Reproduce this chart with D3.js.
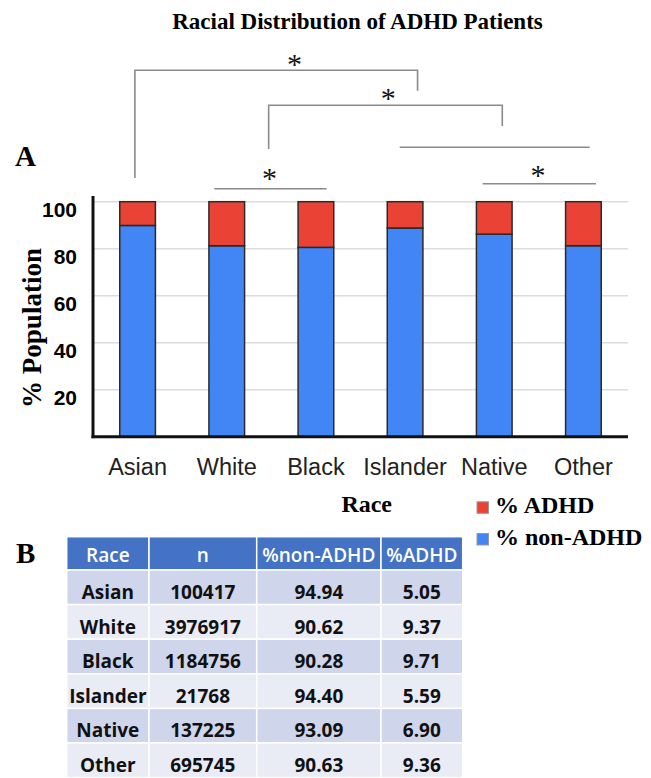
<!DOCTYPE html>
<html>
<head>
<meta charset="utf-8">
<title>Racial Distribution of ADHD Patients</title>
<style>
  body { margin: 0; background: #fff; }
  svg { display: block; }
  .serif { font-family: 'Liberation Serif', 'Times New Roman', serif; font-weight: bold; }
  .sans { font-family: 'Liberation Sans', Arial, sans-serif; }
  .tbl { font-family: 'Open Sans', 'Noto Sans', sans-serif; }
</style>
</head>
<body>
<div id="chart"></div>
<script src="https://d3js.org/d3.v7.min.js"></script>
<script>
// data
var races      = ["Asian", "White", "Black", "Islander", "Native", "Other"];
var counts     = [100417, 3976917, 1184756, 21768, 137225, 695745];
var nonAdhd    = [94.94, 90.62, 90.28, 94.40, 93.09, 90.63];
var adhd       = [5.05, 9.37, 9.71, 5.59, 6.90, 9.36];
var tableHead  = ["Race", "n", "%non-ADHD", "%ADHD"];
// gridlines as drawn in the figure and the labels printed beside them
var yTickValues = [60, 70, 80, 90, 100];
var yTickLabels = ["20", "40", "60", "80", "100"];

var blue = "#4285f4", red = "#ea4335";

var svg = d3.select("#chart").append("svg")
    .attr("width", 651)
    .attr("height", 778);

// title
svg.append("text")
    .attr("class", "serif")
    .attr("x", 357.5).attr("y", 28.5)
    .attr("text-anchor", "middle")
    .style("font-size", "23px")
    .text("Racial Distribution of ADHD Patients");

// panel letters
svg.append("text").attr("class", "serif").attr("x", 15).attr("y", 166)
    .style("font-size", "29px").text("A");
svg.append("text").attr("class", "serif").attr("x", 16).attr("y", 563)
    .style("font-size", "29px").text("B");

// scales
var x = d3.scaleBand()
    .domain(races)
    .range([93, 628])
    .paddingInner(0.6)
    .paddingOuter(0.3);

var y = d3.scaleLinear()
    .domain([50, 100])
    .range([436.7, 201.7]);

// category index -> x, for the significance brackets
function pos(i) {
    return x(races[0]) + x.bandwidth() / 2 + i * x.step();
}

// gridlines
svg.append("g")
    .selectAll("line")
    .data(yTickValues)
    .enter().append("line")
    .attr("x1", 93).attr("x2", 628)
    .attr("y1", function(d){ return y(d); })
    .attr("y2", function(d){ return y(d); })
    .attr("stroke", "#dcdcdc")
    .attr("stroke-width", 1.5);

// y tick labels (drawn a little below the gridline, like the original)
svg.append("g")
    .selectAll("text")
    .data(yTickValues)
    .enter().append("text")
    .attr("class", "sans")
    .attr("x", 77)
    .attr("y", function(d){ return y(d) + 15; })
    .attr("text-anchor", "end")
    .style("font-size", "21px")
    .style("font-weight", "bold")
    .text(function(d, i){ return yTickLabels[i]; });

// bars
var bars = svg.append("g")
    .selectAll("g")
    .data(races)
    .enter().append("g");

bars.append("rect")
    .attr("x", function(d){ return x(d); })
    .attr("width", x.bandwidth())
    .attr("y", function(d, i){ return y(nonAdhd[i]); })
    .attr("height", function(d, i){ return y(50) - y(nonAdhd[i]); })
    .attr("fill", blue)
    .attr("stroke", "#2a2a2a")
    .attr("stroke-width", 1.5);

bars.append("rect")
    .attr("x", function(d){ return x(d); })
    .attr("width", x.bandwidth())
    .attr("y", y(100))
    .attr("height", function(d, i){ return y(100 - adhd[i]) - y(100); })
    .attr("fill", red)
    .attr("stroke", "#2a2a2a")
    .attr("stroke-width", 1.5);

// axes lines
svg.append("line")
    .attr("x1", 93).attr("x2", 93)
    .attr("y1", 196).attr("y2", y(50) + 1.5)
    .attr("stroke", "#111").attr("stroke-width", 3);
svg.append("line")
    .attr("x1", 91.5).attr("x2", 628)
    .attr("y1", y(50)).attr("y2", y(50))
    .attr("stroke", "#111").attr("stroke-width", 3);

// x labels
svg.append("g")
    .selectAll("text")
    .data(races)
    .enter().append("text")
    .attr("class", "sans")
    .attr("x", function(d){ return x(d) + x.bandwidth() / 2; })
    .attr("y", 475)
    .attr("text-anchor", "middle")
    .style("font-size", "23.5px")
    .style("fill", "#222")
    .text(function(d){ return d; });

// axis titles
svg.append("text")
    .attr("class", "serif")
    .attr("transform", "translate(41,328) rotate(-90)")
    .attr("text-anchor", "middle")
    .style("font-size", "27px")
    .text("% Population");

svg.append("text")
    .attr("class", "serif")
    .attr("x", 366.7).attr("y", 512)
    .attr("text-anchor", "middle")
    .style("font-size", "24px")
    .text("Race");

// legend
var legend = [{label: "% ADHD", color: red, y: 513.3}, {label: "% non-ADHD", color: blue, y: 545}];
var lg = svg.append("g").selectAll("g").data(legend).enter().append("g");
lg.append("rect")
    .attr("x", 477).attr("y", function(d){ return d.y - 11.5; })
    .attr("width", 11.5).attr("height", 11.5)
    .attr("fill", function(d){ return d.color; })
    .attr("stroke", "#999").attr("stroke-width", 1);
lg.append("text")
    .attr("class", "serif")
    .attr("x", 495).attr("y", function(d){ return d.y; })
    .style("font-size", "24px")
    .text(function(d){ return d.label; });

// significance brackets
var brackets = [
    {from: -0.03, to: 3.14, y: 70.3, legL: 178, legR: 90.7, star: 1.76, starY: 60},
    {from: 1.47, to: 4.09, y: 105.3, legL: 149, legR: 126, star: 2.81, starY: 94},
    {from: 2.94, to: 5.07, y: 147.3},
    {from: 0.86, to: 2.12, y: 188.7, star: 1.48, starY: 174},
    {from: 3.87, to: 5.14, y: 183.7, star: 4.49, starY: 170.7}
];
var bg = svg.append("g")
    .attr("fill", "none")
    .attr("stroke", "#8a8a8a")
    .attr("stroke-width", 1.6);
bg.selectAll("path")
    .data(brackets)
    .enter().append("path")
    .attr("d", function(d){
        var p = d3.path(), x0 = pos(d.from), x1 = pos(d.to);
        if (d.legL) { p.moveTo(x0, d.legL); p.lineTo(x0, d.y); } else { p.moveTo(x0, d.y); }
        p.lineTo(x1, d.y);
        if (d.legR) p.lineTo(x1, d.legR);
        return p.toString();
    });
svg.append("g")
    .selectAll("text")
    .data(brackets.filter(function(d){ return d.star !== undefined; }))
    .enter().append("text")
    .attr("x", function(d){ return pos(d.star); })
    .attr("y", function(d){ return d.starY + 14; })
    .attr("text-anchor", "middle")
    .style("font-family", "'Liberation Serif', serif")
    .style("font-size", "30px")
    .style("fill", "#111")
    .text("*");

// table B
var colEdges = [66.7, 149, 256.7, 381, 462.7];
var headTop = 536.7, headH = 33.3, rowH = 34.6;
var tg = svg.append("g").attr("class", "tbl");

tg.selectAll("rect.head")
    .data(tableHead)
    .enter().append("rect")
    .attr("class", "head")
    .attr("x", function(d, i){ return colEdges[i]; })
    .attr("y", headTop)
    .attr("width", function(d, i){ return colEdges[i + 1] - colEdges[i]; })
    .attr("height", headH)
    .attr("fill", "#4472c4")
    .attr("stroke", "#fff").attr("stroke-width", 1.5);

tg.selectAll("text.head")
    .data(tableHead)
    .enter().append("text")
    .attr("class", "head")
    .attr("x", function(d, i){ return (colEdges[i] + colEdges[i + 1]) / 2; })
    .attr("y", headTop + 25)
    .attr("text-anchor", "middle")
    .style("font-size", "19px")
    .style("font-weight", "600")
    .style("fill", "#fff")
    .text(function(d){ return d; });

var rows = races.map(function(r, i){
    return [r, String(counts[i]), nonAdhd[i].toFixed(2), adhd[i].toFixed(2)];
});

var rg = tg.selectAll("g.row")
    .data(rows)
    .enter().append("g")
    .attr("class", "row")
    .attr("transform", function(d, i){ return "translate(0," + (headTop + headH + i * rowH) + ")"; });

rg.selectAll("rect")
    .data(function(d, i){ return d.map(function(v){ return {v: v, r: i}; }); })
    .enter().append("rect")
    .attr("x", function(d, j){ return colEdges[j]; })
    .attr("width", function(d, j){ return colEdges[j + 1] - colEdges[j]; })
    .attr("height", rowH)
    .attr("fill", function(d){ return d.r % 2 === 0 ? "#cfd5ea" : "#e9ebf5"; })
    .attr("stroke", "#fff").attr("stroke-width", 1.5);

rg.selectAll("text")
    .data(function(d){ return d; })
    .enter().append("text")
    .attr("x", function(d, j){ return (colEdges[j] + colEdges[j + 1]) / 2; })
    .attr("y", 29)
    .attr("text-anchor", "middle")
    .style("font-size", "19px")
    .style("font-weight", "bold")
    .style("fill", "#111")
    .text(function(d){ return d; });
</script>
</body>
</html>
